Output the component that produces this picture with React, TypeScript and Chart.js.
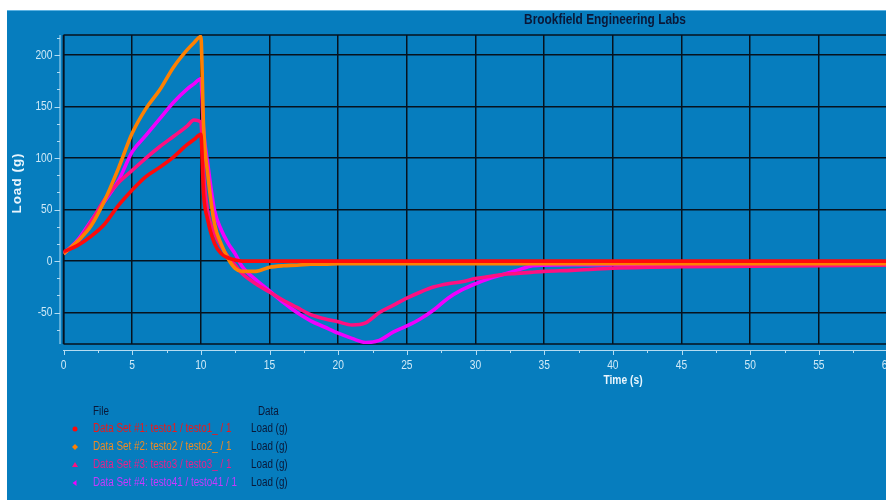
import React, { useEffect, useRef } from "react";
import { Chart, registerables } from "chart.js";

Chart.register(...registerables);

// ---------- data ----------
const TIME = [0, 1, 2, 3, 4, 5, 6, 7, 8, 9, 9.5, 10, 10.2, 10.5, 11, 11.5, 12, 12.5, 13, 14, 15, 16, 17, 18, 19, 20, 21, 22, 23, 24, 25, 26, 27, 28, 29, 30, 31, 32, 33, 34, 35, 37, 40, 45, 50, 55, 60];

const LOAD_SET1 = [9, 15, 24, 36, 54, 69, 82, 91, 101, 113, 118, 123, 65, 40, 17, 7, 3, 1, 0, 0, 0, 0, 0, 0, 0, 0, 0, 0, 0, 0, 0, 0, 0, 0, 0, 0, 0, 0, 0, 0, 0, 0, 0, 0, 0, 0, 0];
const LOAD_SET2 = [7, 19, 34, 59, 90, 124, 148, 166, 188, 205, 212, 218, 130, 85, 36, 16, 2, -7, -10, -10, -6, -4.5, -4, -3, -3, -2.5, -2.5, -2.5, -2.5, -2.5, -2.5, -2.5, -2.5, -2.5, -2.5, -2.5, -2.5, -2.5, -2.5, -2.5, -2.5, -2.5, -2.5, -2.5, -2.5, -2.5, -2.5];
const LOAD_SET3 = [8, 18, 38, 60, 76, 88, 100, 111, 121, 131, 137, 135, 85, 48, 27, 14, 4, -4, -12, -22, -30, -38, -45, -52, -56, -59, -62, -60, -50, -43, -36, -30, -25, -22, -20, -17, -15, -13, -12, -11, -10, -9, -7, -5.5, -5, -4.5, -4];
const LOAD_SET4 = [7, 20, 39, 58, 78, 106, 122, 138, 154, 167, 172, 177, 127, 95, 49, 30, 17, 7, -5, -18, -29, -40, -50, -58, -64, -70, -75, -79, -77, -69, -63, -56, -47, -36, -28, -22, -17, -13, -9, -5, -4, -3.5, -3.5, -3.5, -3.5, -3.5, -3.5];

const X_TICKS = [0, 5, 10, 15, 20, 25, 30, 35, 40, 45, 50, 55, 60];
const Y_TICKS = [-50, 0, 50, 100, 150, 200];

const SERIES_LABELS = [
  "Data Set #1: testo1 / testo1_ / 1",
  "Data Set #2: testo2 / testo2_ / 1",
  "Data Set #3: testo3 / testo3_ / 1",
  "Data Set #4: testo41 / testo41 / 1",
];
const SERIES_DATA_NAMES = ["Load (g)", "Load (g)", "Load (g)", "Load (g)"];

const TITLE = "Brookfield Engineering Labs";
const X_TITLE = "Time (s)";
const Y_TITLE = "Load (g)";

// ---------- styles ----------
const BG = "rgb(6,125,190)";
const LINE_COLORS = ["#ff0a0a", "#ff8000", "#ff1080", "#f000ff"];
const LEGEND_COLORS = ["#f01818", "#f08a22", "#e8208a", "#c838ff"];
const MARKERS = ["circle", "diamond", "triangle", "left"];
const NAVY = "#0a1838";
const LIGHT = "#cfe9f7";
const GRID = "#06121e";
const SANS = "'Liberation Sans', Arial, sans-serif";
const NARROW_SCALE = 0.82;

function narrowText(
  ctx: CanvasRenderingContext2D,
  text: string,
  x: number,
  y: number,
  font: string,
  color: string,
  align: CanvasTextAlign
) {
  ctx.save();
  ctx.translate(x, y);
  ctx.scale(NARROW_SCALE, 1);
  ctx.font = font;
  ctx.fillStyle = color;
  ctx.textAlign = align;
  ctx.textBaseline = "middle";
  ctx.fillText(text, 0, 0);
  ctx.restore();
}

function drawMarker(ctx: CanvasRenderingContext2D, kind: string, x: number, y: number, color: string) {
  ctx.fillStyle = color;
  ctx.beginPath();
  if (kind === "circle") {
    ctx.arc(x, y, 2.5, 0, Math.PI * 2);
  } else if (kind === "diamond") {
    ctx.moveTo(x, y - 3);
    ctx.lineTo(x + 3, y);
    ctx.lineTo(x, y + 3);
    ctx.lineTo(x - 3, y);
  } else if (kind === "triangle") {
    ctx.moveTo(x, y - 3);
    ctx.lineTo(x + 3, y + 2);
    ctx.lineTo(x - 3, y + 2);
  } else {
    ctx.moveTo(x - 2.5, y);
    ctx.lineTo(x + 1.5, y - 3);
    ctx.lineTo(x + 1.5, y + 3);
  }
  ctx.closePath();
  ctx.fill();
}

const overlayPlugin = {
  id: "overlay",
  beforeDraw(chart: any) {
    const { ctx } = chart;
    ctx.save();
    ctx.fillStyle = BG;
    ctx.fillRect(0, 0, chart.width, chart.height);
    ctx.fillStyle = "#5cb2e2";
    ctx.fillRect(0, 0, chart.width, 1);
    ctx.restore();
  },
  beforeDatasetsDraw(chart: any) {
    const { ctx } = chart;
    const { left, right, top, bottom } = chart.chartArea;
    ctx.save();
    ctx.strokeStyle = GRID;
    ctx.lineWidth = 1.6;
    ctx.beginPath();
    ctx.moveTo(left, top);
    ctx.lineTo(right, top);
    ctx.moveTo(left, bottom);
    ctx.lineTo(right, bottom);
    ctx.moveTo(left, top);
    ctx.lineTo(left, bottom);
    ctx.stroke();
    ctx.restore();
  },
  afterDraw(chart: any) {
    const { ctx } = chart;
    const { left, right, top, bottom } = chart.chartArea;
    const xs = chart.scales.x;
    const ys = chart.scales.y;
    ctx.save();

    // light axis lines with ticks
    ctx.strokeStyle = "#b4dcf2";
    ctx.lineWidth = 1;
    const yAxisX = left - 4;
    ctx.beginPath();
    ctx.moveTo(yAxisX + 0.5, top);
    ctx.lineTo(yAxisX + 0.5, bottom);
    for (let k = -6; k <= 14; k++) {
      const v = (k * 50) / 3;
      if (v < ys.min || v > ys.max) continue;
      const py = Math.round(ys.getPixelForValue(v)) + 0.5;
      const major = k % 3 === 0;
      ctx.moveTo(yAxisX + 0.5, py);
      ctx.lineTo(yAxisX - (major ? 5 : 2.5), py);
    }
    const xAxisY = bottom + 6;
    ctx.moveTo(left - 0.5, xAxisY + 0.5);
    ctx.lineTo(right + 20, xAxisY + 0.5);
    for (let k = 0; k <= 24; k++) {
      const v = k * 2.5;
      const px = Math.round(xs.getPixelForValue(v)) + 0.5;
      const major = k % 2 === 0;
      ctx.moveTo(px, xAxisY + 0.5);
      ctx.lineTo(px, xAxisY + (major ? 5 : 3));
    }
    ctx.stroke();

    // tick labels (positions from the chart's own scales)
    const tickFont = `12.5px ${SANS}`;
    xs.ticks.forEach((t: any) => {
      narrowText(ctx, String(t.value), xs.getPixelForValue(t.value), bottom + 22, tickFont, LIGHT, "center");
    });
    ys.ticks.forEach((t: any) => {
      narrowText(ctx, String(t.value), left - 11, ys.getPixelForValue(t.value), tickFont, LIGHT, "right");
    });

    // title
    narrowText(ctx, TITLE, 598, 10, `bold 14.5px ${SANS}`, NAVY, "center");

    // axis titles
    narrowText(ctx, X_TITLE, 616, 371, `bold 12.5px ${SANS}`, "#e8f5fd", "center");
    ctx.save();
    ctx.translate(10, 173);
    ctx.rotate(-Math.PI / 2);
    ctx.font = `bold 13.5px ${SANS}`;
    ctx.fillStyle = "#e8f5fd";
    ctx.textAlign = "center";
    ctx.textBaseline = "middle";
    try { (ctx as any).letterSpacing = "1px"; } catch (e) {}
    ctx.fillText(Y_TITLE, 0, 0);
    ctx.restore();

    // legend
    const lf = `12px ${SANS}`;
    narrowText(ctx, "File", 86, 402, lf, NAVY, "left");
    narrowText(ctx, "Data", 251, 402, lf, NAVY, "left");
    for (let i = 0; i < SERIES_LABELS.length; i++) {
      const y = 419 + i * 18;
      drawMarker(ctx, MARKERS[i], 68, y, LINE_COLORS[i]);
      narrowText(ctx, SERIES_LABELS[i], 86, y, lf, LEGEND_COLORS[i], "left");
      narrowText(ctx, SERIES_DATA_NAMES[i], 244, y, lf, NAVY, "left");
    }
    ctx.restore();
  },
};

export default function App() {
  const canvasRef = useRef<HTMLCanvasElement | null>(null);

  useEffect(() => {
    const canvas = canvasRef.current;
    if (!canvas) return;
    const series = [LOAD_SET1, LOAD_SET2, LOAD_SET3, LOAD_SET4];
    const chart = new Chart(canvas, {
      type: "line",
      data: {
        datasets: series.map((vals, i) => ({
          label: SERIES_LABELS[i],
          data: TIME.map((t, j) => ({ x: t, y: vals[j] })),
          borderColor: LINE_COLORS[i],
          backgroundColor: LINE_COLORS[i],
          borderWidth: 3.6,
          pointRadius: 0,
          fill: false,
          cubicInterpolationMode: "monotone" as const,
        })),
      },
      options: {
        responsive: false,
        animation: false,
        devicePixelRatio: 1,
        layout: { padding: { left: 0, right: 19.5, top: 25, bottom: 0 } },
        plugins: {
          legend: { display: false },
          title: { display: false },
          tooltip: { enabled: false },
        },
        scales: {
          x: {
            type: "linear",
            min: 0,
            max: 60,
            afterBuildTicks: (scale: any) => {
              scale.ticks = X_TICKS.map((v) => ({ value: v }));
            },
            afterFit: (scale: any) => {
              scale.height = 156;
            },
            grid: { color: GRID, lineWidth: 1.5, drawTicks: false },
            border: { display: false },
            ticks: { display: false, autoSkip: false },
          },
          y: {
            type: "linear",
            min: -80.5,
            max: 219.5,
            afterBuildTicks: (scale: any) => {
              scale.ticks = Y_TICKS.map((v) => ({ value: v }));
            },
            afterFit: (scale: any) => {
              scale.width = 56.5;
            },
            grid: { color: GRID, lineWidth: 1.5, drawTicks: false },
            border: { display: false },
            ticks: { display: false, autoSkip: false },
          },
        },
      },
      plugins: [overlayPlugin],
    });
    return () => chart.destroy();
  }, []);

  return (
    <div
      style={{
        position: "absolute",
        left: 7,
        top: 10,
        width: 879,
        height: 490,
        overflow: "hidden",
        background: BG,
      }}
    >
      <canvas ref={canvasRef} width={900} height={490} style={{ width: 900, height: 490, display: "block" }} />
    </div>
  );
}
